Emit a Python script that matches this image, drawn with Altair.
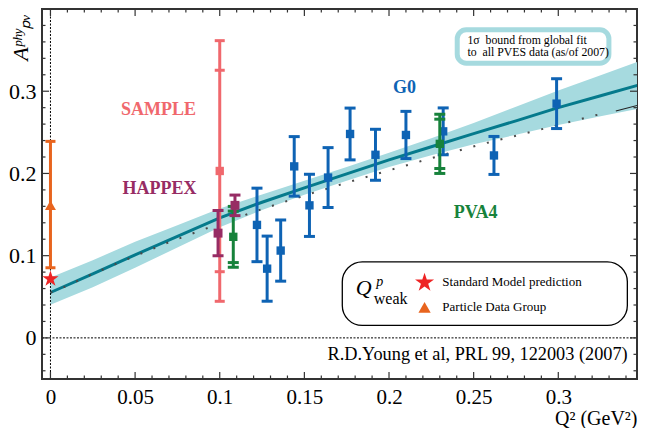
import altair as alt
import pandas as pd

# ---------------- data ----------------
g0_q2 = [0.122, 0.128, 0.136, 0.144, 0.153, 0.164, 0.177, 0.192, 0.210, 0.232, 0.262, 0.299]
g0_val = [0.1374, 0.0842, 0.1062, 0.2086, 0.1612, 0.1950, 0.2480, 0.2227, 0.2468, 0.2512, 0.2219, 0.2849]
g0_err = [0.0447, 0.0396, 0.0372, 0.0362, 0.0378, 0.0364, 0.0315, 0.0310, 0.0287, 0.0285, 0.0231, 0.0303]

sample_q2 = [0.100]
sample_val = [0.203]
sample_stat = [0.1225]
sample_tot = [0.1585]

happex_q2 = [0.099, 0.109]
happex_val = [0.1274, 0.1612]
happex_err = [0.0275, 0.0125]

pva4_q2 = [0.108, 0.230]
pva4_val = [0.1229, 0.2360]
pva4_stat = [0.0313, 0.0300]
pva4_tot = [0.0370, 0.0360]

pdg_q2 = [0.0]
pdg_val = [0.1612]
pdg_lo = [0.0853]
pdg_hi = [0.2390]

sm_q2 = [0.0]
sm_val = [0.0717]

fit_q2 = [0.0, 0.025, 0.05, 0.075, 0.1, 0.125, 0.15, 0.175, 0.2, 0.225, 0.25, 0.275, 0.3, 0.325, 0.35]
fit_mid = [0.0552, 0.078, 0.101, 0.1235, 0.146, 0.165, 0.1825, 0.1995, 0.2165, 0.2325, 0.2485, 0.264, 0.280, 0.2945, 0.309]
fit_lo = [0.0404, 0.0615, 0.0852, 0.110, 0.1345, 0.1555, 0.174, 0.1912, 0.2077, 0.2222, 0.2355, 0.247, 0.259, 0.2695, 0.280]
fit_hi = [0.0733, 0.0945, 0.1168, 0.137, 0.1575, 0.1745, 0.191, 0.2078, 0.2253, 0.2428, 0.2615, 0.281, 0.301, 0.3195, 0.338]

dot_q2 = [0.0, 0.0083, 0.023, 0.038, 0.053, 0.0684, 0.0835, 0.091, 0.1219, 0.1373, 0.153, 0.1767,
          0.2003, 0.224, 0.2555, 0.287, 0.3186, 0.3264]
dot_val = [0.055, 0.062, 0.0761, 0.0894, 0.1022, 0.1151, 0.1267, 0.1323, 0.1545, 0.1648, 0.175, 0.1898,
           0.2039, 0.218, 0.236, 0.252, 0.269, 0.2729]

tail_q2 = [0.334, 0.350]
tail_val = [0.276, 0.2845]

x_tick_labels = [0, 0.05, 0.1, 0.15, 0.2, 0.25, 0.3]
y_tick_labels = [0, 0.1, 0.2, 0.3]
x_minor = [round(i * 0.01, 2) for i in range(0, 35)]
y_minor = [round(-0.04 + i * 0.02, 2) for i in range(0, 22)]

# ---------------- layout / style ----------------
TOTAL_W, TOTAL_H = 630, 420
W, H = 595, 370          # approximate plot size (used for tick lengths only)
XD = [-0.005, 0.3465]
YD = [-0.05, 0.40]
SERIF = "Liberation Serif"

BAND = "#a6dadf"
LINE = "#057a8c"
G0C = "#0e63b4"
SAMPC = "#f0686d"
HAPC = "#972c64"
PVAC = "#17823b"
PDGC = "#e8641e"
SMC = "#ee2424"

xs = alt.Scale(domain=XD, nice=False, zero=False)
ys = alt.Scale(domain=YD, nice=False, zero=False)

xaxis = alt.Axis(values=x_tick_labels, format="~g", title="Q² (GeV²)", grid=False, ticks=False,
                 tickSize=0, domain=False, labelFont=SERIF, labelFontSize=21, labelPadding=7,
                 labelColor="black", labelFlush=False, titleFont=SERIF, titleFontSize=20,
                 titleFontWeight="normal", titleColor="black", titleAnchor="end", titleY=49,
                 titleAlign="right", titleBaseline="bottom", titleAngle=0)
yaxis = alt.Axis(values=y_tick_labels, format="~g", title="Aᵖʰʸₚᵥ", grid=False, ticks=False,
                 tickSize=0, domain=False, labelFont=SERIF, labelFontSize=22, labelPadding=6,
                 labelColor="black", labelFlush=False, titleFont=SERIF, titleFontSize=22,
                 titleFontStyle="italic", titleFontWeight="normal", titleColor="black",
                 titleX=-22, titleY=28, titleAngle=270, titleAlign="center", titleBaseline="middle")


def X(f):
    return alt.X(f, type="quantitative", scale=xs, axis=xaxis)


def Y(f):
    return alt.Y(f, type="quantitative", scale=ys, axis=yaxis)


layers = []

# band, fit line, dotted line
fit_df = pd.DataFrame({"q2": fit_q2, "mid": fit_mid, "lo": fit_lo, "hi": fit_hi})
layers.append(alt.Chart(fit_df).mark_area(color=BAND, opacity=1, clip=True)
              .encode(x=X("q2"), y=Y("lo"), y2="hi"))
layers.append(alt.Chart(fit_df).mark_line(color=LINE, strokeWidth=3, clip=True)
              .encode(x=X("q2"), y=Y("mid")))
dot_df = pd.DataFrame({"q2": dot_q2, "v": dot_val})
layers.append(alt.Chart(dot_df).mark_line(color="#4a4a4a", strokeWidth=2, strokeDash=[2, 12], clip=True)
              .encode(x=X("q2"), y=Y("v")))
tail_df = pd.DataFrame({"q2": tail_q2, "v": tail_val})
layers.append(alt.Chart(tail_df).mark_line(color="#222222", strokeWidth=1.2, clip=True)
              .encode(x=X("q2"), y=Y("v")))

# zero lines
zx = pd.DataFrame({"x": [0.0], "y": [YD[0]], "y2": [YD[1]]})
layers.append(alt.Chart(zx).mark_rule(color="black", strokeWidth=1, strokeDash=[2, 1.5])
              .encode(x=X("x"), y=Y("y"), y2="y2"))
zy = pd.DataFrame({"y": [0.0], "x": [XD[0]], "x2": [XD[1]]})
layers.append(alt.Chart(zy).mark_rule(color="black", strokeWidth=1, strokeDash=[2, 1.5])
              .encode(y=Y("y"), x=X("x"), x2="x2"))

# frame ticks (inward), on all four sides
pxx = W / (XD[1] - XD[0])
pxy = H / (YD[1] - YD[0])
rows = []
for v in x_minor:
    major = abs(v / 0.05 - round(v / 0.05)) < 1e-6
    L = (7 if major else 3.5) / pxy
    rows.append({"x": v, "x2": v, "y": YD[0], "y2": YD[0] + L})
    rows.append({"x": v, "x2": v, "y": YD[1], "y2": YD[1] - L})
for v in y_minor:
    major = abs(v / 0.1 - round(v / 0.1)) < 1e-6
    L = (7 if major else 3.5) / pxx
    rows.append({"y": v, "y2": v, "x": XD[0], "x2": XD[0] + L})
    rows.append({"y": v, "y2": v, "x": XD[1], "x2": XD[1] - L})
tick_df = pd.DataFrame(rows)
layers.append(alt.Chart(tick_df).mark_rule(color="#333333", strokeWidth=1.2)
              .encode(x=X("x"), x2="x2", y=Y("y"), y2="y2"))


def group(bars, caps, pts, color, capw, size=70):
    out = [
        alt.Chart(pd.DataFrame(bars)).mark_rule(color=color, strokeWidth=3)
        .encode(x=X("q2"), y=Y("lo"), y2="hi"),
        alt.Chart(pd.DataFrame(caps)).mark_rule(color=color, strokeWidth=3,
                                                xOffset=-capw / 2, x2Offset=capw / 2)
        .encode(x=X("q2"), x2="q2", y=Y("y")),
    ]
    if pts is not None:
        out.append(alt.Chart(pd.DataFrame(pts)).mark_square(color=color, size=size, opacity=1, filled=True)
                   .encode(x=X("q2"), y=Y("v")))
    return out


# SAMPLE
layers += group(
    {"q2": sample_q2, "lo": [v - e for v, e in zip(sample_val, sample_tot)],
     "hi": [v + e for v, e in zip(sample_val, sample_tot)]},
    {"q2": sample_q2 * 4,
     "y": [v + e for v, e in zip(sample_val, sample_tot)] + [v - e for v, e in zip(sample_val, sample_tot)]
     + [v + e for v, e in zip(sample_val, sample_stat)] + [v - e for v, e in zip(sample_val, sample_stat)]},
    {"q2": sample_q2, "v": sample_val}, SAMPC, 10)

# G0
layers += group(
    {"q2": g0_q2, "lo": [v - e for v, e in zip(g0_val, g0_err)], "hi": [v + e for v, e in zip(g0_val, g0_err)]},
    {"q2": g0_q2 * 2, "y": [v + e for v, e in zip(g0_val, g0_err)] + [v - e for v, e in zip(g0_val, g0_err)]},
    {"q2": g0_q2, "v": g0_val}, G0C, 11)

# PVA4
layers += group(
    {"q2": pva4_q2, "lo": [v - e for v, e in zip(pva4_val, pva4_tot)],
     "hi": [v + e for v, e in zip(pva4_val, pva4_tot)]},
    {"q2": pva4_q2 * 4,
     "y": [v + e for v, e in zip(pva4_val, pva4_tot)] + [v - e for v, e in zip(pva4_val, pva4_tot)]
     + [v + e for v, e in zip(pva4_val, pva4_stat)] + [v - e for v, e in zip(pva4_val, pva4_stat)]},
    {"q2": pva4_q2, "v": pva4_val}, PVAC, 11)

# HAPPEX
layers += group(
    {"q2": happex_q2, "lo": [v - e for v, e in zip(happex_val, happex_err)],
     "hi": [v + e for v, e in zip(happex_val, happex_err)]},
    {"q2": happex_q2 * 2,
     "y": [v + e for v, e in zip(happex_val, happex_err)] + [v - e for v, e in zip(happex_val, happex_err)]},
    {"q2": happex_q2, "v": happex_val}, HAPC, 11, size=80)

# PDG
layers += group({"q2": pdg_q2, "lo": pdg_lo, "hi": pdg_hi},
                {"q2": pdg_q2 * 2, "y": pdg_lo + pdg_hi}, None, PDGC, 10)
layers.append(alt.Chart(pd.DataFrame({"q2": pdg_q2, "v": pdg_val}))
              .mark_point(shape="triangle-up", filled=True, color=PDGC, size=120, opacity=1)
              .encode(x=X("q2"), y=Y("v")))

STAR = ("M0,-1L0.2245,-0.309L0.951,-0.309L0.363,0.118L0.588,0.809L0,0.382L-0.588,0.809"
        "L-0.363,0.118L-0.951,-0.309L-0.2245,-0.309Z")
layers.append(alt.Chart(pd.DataFrame({"q2": sm_q2, "v": sm_val}))
              .mark_point(shape=STAR, filled=True, color=SMC, size=290, opacity=1)
              .encode(x=X("q2"), y=Y("v")))

# experiment labels
lab_df = pd.DataFrame({
    "x": [0.0638, 0.0644, 0.2092, 0.2512],
    "y": [0.2777, 0.1813, 0.3042, 0.1524],
    "t": ["SAMPLE", "HAPPEX", "G0", "PVA4"],
    "c": [SAMPC, HAPC, G0C, PVAC],
})
layers.append(alt.Chart(lab_df).mark_text(font=SERIF, fontSize=18, fontWeight="bold", align="center",
                                           baseline="middle")
              .encode(x=X("x"), y=Y("y"), text="t:N", color=alt.Color("c:N", scale=None)))

# reference text
layers.append(alt.Chart(pd.DataFrame({"x": [0.341], "y": [-0.0211],
                                      "t": ["R.D.Young et al, PRL 99, 122003 (2007)"]}))
              .mark_text(font=SERIF, fontSize=18.3, align="right", baseline="middle", color="black")
              .encode(x=X("x"), y=Y("y"), text="t:N"))

# top-right box
layers.append(alt.Chart(pd.DataFrame({"x": [0.2403], "x2": [0.3299], "y": [0.3341], "y2": [0.3747]}))
              .mark_rect(fill="white", stroke=BAND, strokeWidth=5, cornerRadius=9)
              .encode(x=X("x"), x2="x2", y=Y("y"), y2="y2"))
layers.append(alt.Chart(pd.DataFrame({"x": [0.2463, 0.2463], "y": [0.3624, 0.3472],
                                      "t": ["1σ\u00a0 bound from global fit",
                                            "to\u00a0 all PVES data (as/of 2007)"]}))
              .mark_text(font=SERIF, fontSize=11.8, align="left", baseline="middle", color="black")
              .encode(x=X("x"), y=Y("y"), text="t:N"))

# bottom legend box
layers.append(alt.Chart(pd.DataFrame({"x": [0.1724], "x2": [0.3408], "y": [0.0151], "y2": [0.0925]}))
              .mark_rect(fill="white", stroke="black", strokeWidth=1.3, cornerRadius=20)
              .encode(x=X("x"), x2="x2", y=Y("y"), y2="y2"))
layers.append(alt.Chart(pd.DataFrame({"x": [0.1850], "y": [0.0518], "t": ["Q"]}))
              .mark_text(font=SERIF, fontSize=22, fontStyle="italic", align="center", baseline="alphabetic",
                         color="black")
              .encode(x=X("x"), y=Y("y"), text="t:N"))
layers.append(alt.Chart(pd.DataFrame({"x": [0.1945], "y": [0.063], "t": ["p"]}))
              .mark_text(font=SERIF, fontSize=14, fontStyle="italic", align="center", baseline="alphabetic",
                         color="black")
              .encode(x=X("x"), y=Y("y"), text="t:N"))
layers.append(alt.Chart(pd.DataFrame({"x": [0.1910], "y": [0.0415], "t": ["weak"]}))
              .mark_text(font=SERIF, fontSize=16, align="left", baseline="alphabetic", color="black")
              .encode(x=X("x"), y=Y("y"), text="t:N"))
layers.append(alt.Chart(pd.DataFrame({"x": [0.2210], "y": [0.0672]}))
              .mark_point(shape=STAR, filled=True, color=SMC, size=400, opacity=1)
              .encode(x=X("x"), y=Y("y")))
layers.append(alt.Chart(pd.DataFrame({"x": [0.2210], "y": [0.0371]}))
              .mark_point(shape="triangle-up", filled=True, color=PDGC, size=150, opacity=1)
              .encode(x=X("x"), y=Y("y")))
layers.append(alt.Chart(pd.DataFrame({"x": [0.2315, 0.2315], "y": [0.0684, 0.0380],
                                      "t": ["Standard Model prediction", "Particle Data Group"]}))
              .mark_text(font=SERIF, fontSize=13, align="left", baseline="middle", color="black")
              .encode(x=X("x"), y=Y("y"), text="t:N"))

chart = (alt.layer(*layers)
         .properties(width=TOTAL_W, height=TOTAL_H, padding=0,
                     autosize=alt.AutoSizeParams(type="fit", contains="padding"))
         .configure_view(stroke="#333333", strokeWidth=2))

chart.save("out.html", embed_options={"renderer": "svg", "actions": False})
